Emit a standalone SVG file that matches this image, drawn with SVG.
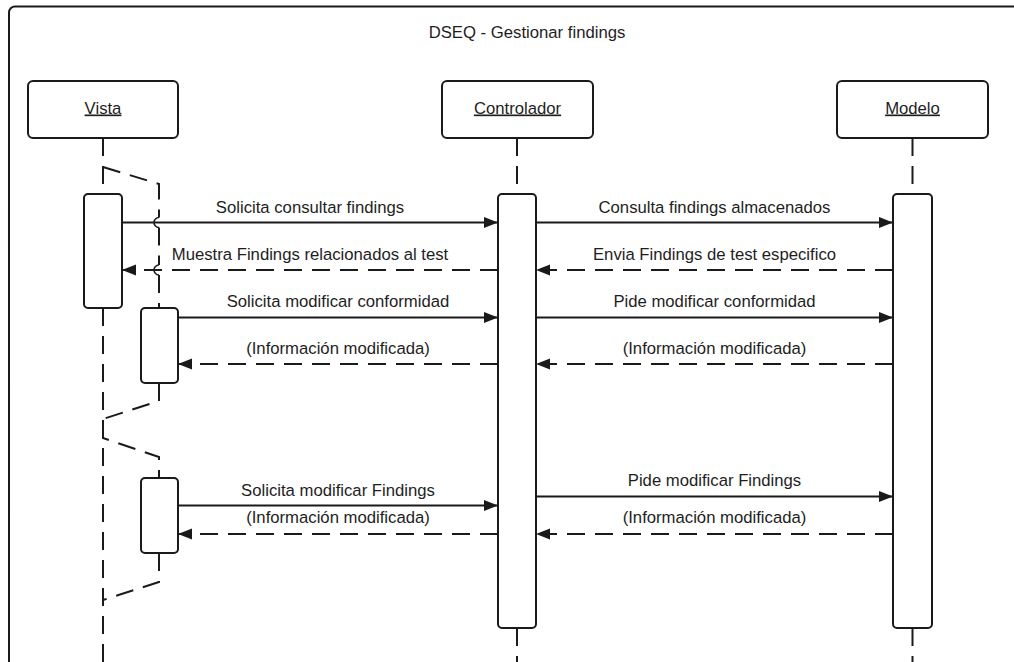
<svg xmlns="http://www.w3.org/2000/svg" width="1014" height="662" viewBox="0 0 1014 662">
  <defs>
    <style>
      .frame { fill: #ffffff; stroke: #1a1a1a; stroke-width: 2; }
      .head { fill: #ffffff; stroke: #1a1a1a; stroke-width: 2; }
      .act { fill: #ffffff; stroke: #1a1a1a; stroke-width: 2; }
      .life { fill: none; stroke: #1a1a1a; stroke-width: 2; stroke-dasharray: 18 10; }
      .zig { fill: none; stroke: #1a1a1a; stroke-width: 2; stroke-dasharray: 18 10; }
      .hop { fill: none; stroke: #1a1a1a; stroke-width: 1.6; }
      .msg { fill: none; stroke: #1a1a1a; stroke-width: 1.8; marker-end: url(#arrow); }
      .ret { fill: none; stroke: #1a1a1a; stroke-width: 1.8; stroke-dasharray: 18 10; marker-end: url(#arrow); }
      text { font-family: "Liberation Sans", Arial, sans-serif; font-size: 16.7px; fill: #1e1e1e; text-anchor: middle; }
      .name { text-decoration: underline; }
    </style>
    <marker id="arrow" markerUnits="userSpaceOnUse" markerWidth="15" markerHeight="12" refX="14" refY="5.5" orient="auto">
      <path d="M0,0 L14,5.5 L0,11 Z" fill="#1a1a1a"/>
    </marker>
  </defs>

  <rect width="1014" height="662" fill="#ffffff"/>

  <!-- sequence frame -->
  <rect class="frame" x="9" y="6.5" width="1030" height="690" rx="6"/>
  <text x="527" y="37.5">DSEQ - Gestionar findings</text>

  <!-- Vista participant -->
  <g id="vista">
    <rect class="head" x="28" y="81" width="150" height="57" rx="5"/>
    <text class="name" x="103" y="113.5">Vista</text>
    <path class="life" d="M103,138 V194"/>
    <path class="life" d="M103,308 V662"/>
    <!-- lifeline breaks around the nested activations -->
    <path class="zig" d="M103,167 L159,184 V217.5"/>
    <path class="hop" d="M159,217.5 a5,5 0 0 0 0,10"/>
    <path class="zig" d="M159,227.5 V265"/>
    <path class="hop" d="M159,265 a5,5 0 0 0 0,10"/>
    <path class="zig" d="M159,275 V308"/>
    <path class="zig" d="M159,383 V401 L103,419 V438 L159,457 V478"/>
    <path class="zig" d="M159,553 V582 L103,600"/>
    <rect class="act" x="84" y="194" width="38" height="114" rx="4"/>
    <rect class="act" x="141" y="308" width="37" height="75" rx="4"/>
    <rect class="act" x="141" y="478" width="37" height="75" rx="4"/>
  </g>

  <!-- Controlador participant -->
  <g id="controlador">
    <rect class="head" x="442" y="81" width="151" height="57" rx="5"/>
    <text class="name" x="517.5" y="113.5">Controlador</text>
    <path class="life" d="M517,138 V194"/>
    <path class="life" d="M517,628 V662"/>
    <rect class="act" x="498" y="194" width="38" height="434" rx="4"/>
  </g>

  <!-- Modelo participant -->
  <g id="modelo">
    <rect class="head" x="837" y="81" width="151" height="57" rx="5"/>
    <text class="name" x="912.5" y="113.5">Modelo</text>
    <path class="life" d="M912.5,138 V194"/>
    <path class="life" d="M912.5,628 V662"/>
    <rect class="act" x="893" y="194" width="39" height="434" rx="4"/>
  </g>

  <!-- messages -->
  <g id="connectors">
    <path class="msg" d="M122,222.5 H498"/>
    <text x="310" y="213">Solicita consultar findings</text>
    <path class="ret" d="M498,270 H122"/>
    <text x="310" y="260">Muestra Findings relacionados al test</text>
    <path class="msg" d="M178,317.5 H498"/>
    <text x="338" y="307">Solicita modificar conformidad</text>
    <path class="ret" d="M498,364 H178"/>
    <text x="338" y="353.5">(Información modificada)</text>
    <path class="msg" d="M178,505.5 H498"/>
    <text x="338" y="495.5">Solicita modificar Findings</text>
    <path class="ret" d="M498,534 H178"/>
    <text x="338" y="523">(Información modificada)</text>

    <path class="msg" d="M536,222.5 H893"/>
    <text x="714.5" y="213">Consulta findings almacenados</text>
    <path class="ret" d="M893,270 H536"/>
    <text x="714.5" y="260">Envia Findings de test especifico</text>
    <path class="msg" d="M536,317.5 H893"/>
    <text x="714.5" y="307">Pide modificar conformidad</text>
    <path class="ret" d="M893,364 H536"/>
    <text x="714.5" y="353.5">(Información modificada)</text>
    <path class="msg" d="M536,496.5 H893"/>
    <text x="714.5" y="486">Pide modificar Findings</text>
    <path class="ret" d="M893,534 H536"/>
    <text x="714.5" y="523">(Información modificada)</text>
  </g>
</svg>
